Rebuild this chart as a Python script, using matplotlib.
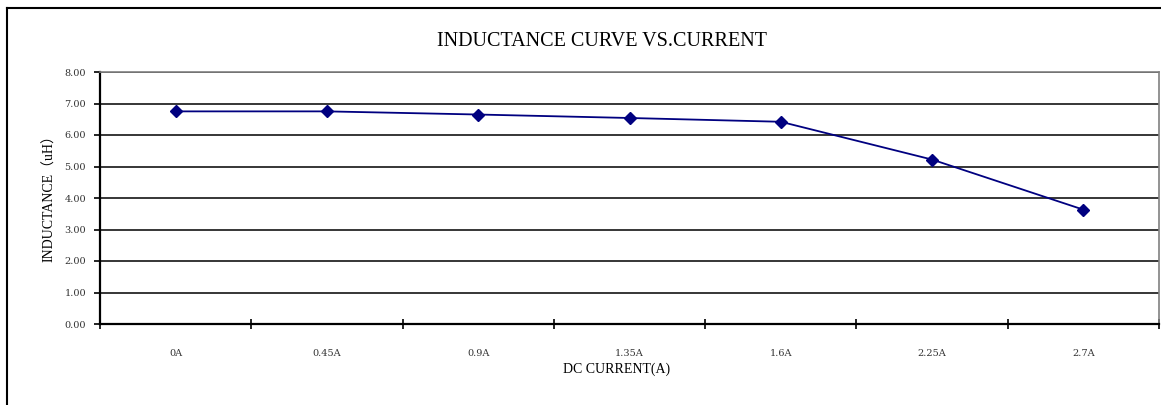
import matplotlib
matplotlib.use("Agg")
import matplotlib.pyplot as plt
from matplotlib.lines import Line2D

# Data
categories = ["0A", "0.45A", "0.9A", "1.35A", "1.6A", "2.25A", "2.7A"]
inductance = [6.75, 6.75, 6.65, 6.54, 6.42, 5.22, 3.63]
y_ticks = [0, 1, 2, 3, 4, 5, 6, 7, 8]

C_LINE = "#000080"
SERIF = ["Liberation Serif", "Noto Sans CJK SC"]
TICKFONT = "DejaVu Serif"

fig = plt.figure(figsize=(11.61, 4.05), dpi=100)
ax = fig.add_axes([100 / 1161, 81 / 405, 1059 / 1161, 252 / 405])

x = list(range(len(categories)))
ax.plot(x, inductance, color=C_LINE, lw=1.3, marker="D", ms=6.5,
        mfc=C_LINE, mec=C_LINE, zorder=3)

ax.set_xlim(-0.5, len(categories) - 0.5)
ax.set_ylim(0, 8)

# gridlines
ax.set_yticks(y_ticks)
ax.set_yticklabels([f"{v:.2f}" for v in y_ticks], fontsize=7,
                   family=TICKFONT, color="#333333")
ax.yaxis.grid(True, color="black", lw=1.1)
ax.set_axisbelow(True)

# category ticks between categories, labels at centers
ax.set_xticks([i - 0.5 for i in range(len(categories) + 1)])
ax.set_xticklabels([])
ax.set_xticks(x, minor=True)
ax.set_xticklabels(categories, minor=True, fontsize=7, family=TICKFONT,
                   color="#333333")
ax.tick_params(axis="x", which="major", direction="inout", length=7,
               width=1.2)
ax.tick_params(axis="x", which="minor", length=0, pad=18)
ax.tick_params(axis="y", direction="out", length=4, width=1.2, pad=6)

for s in ["left", "bottom"]:
    ax.spines[s].set_linewidth(1.6)
    ax.spines[s].set_color("black")
for s in ["top", "right"]:
    ax.spines[s].set_linewidth(1.2)
    ax.spines[s].set_color("#808080")

ax.set_xlabel("DC CURRENT(A)", fontsize=10, family=SERIF)
ax.xaxis.set_label_coords((617 - 100) / 1059, -(369 - 324) / 252)
ax.xaxis.label.set_va("center")
ax.set_ylabel("INDUCTANCE（uH）", fontsize=10, family=SERIF)
ax.yaxis.set_label_coords((50 - 100) / 1059, (324 - 195) / 252)
ax.yaxis.label.set_va("center")

fig.text(602 / 1161, 1 - 41 / 405, "INDUCTANCE CURVE VS.CURRENT",
         ha="center", va="center", fontsize=14.5, family=SERIF)

# outer chart frame (left and top edges)
fig.add_artist(Line2D([7 / 1161, 7 / 1161], [0, 1 - 8 / 405],
                      transform=fig.transFigure, color="black", lw=1.5))
fig.add_artist(Line2D([7 / 1161, 1], [1 - 8 / 405, 1 - 8 / 405],
                      transform=fig.transFigure, color="black", lw=1.5))

fig.savefig("out.png", dpi=100)
